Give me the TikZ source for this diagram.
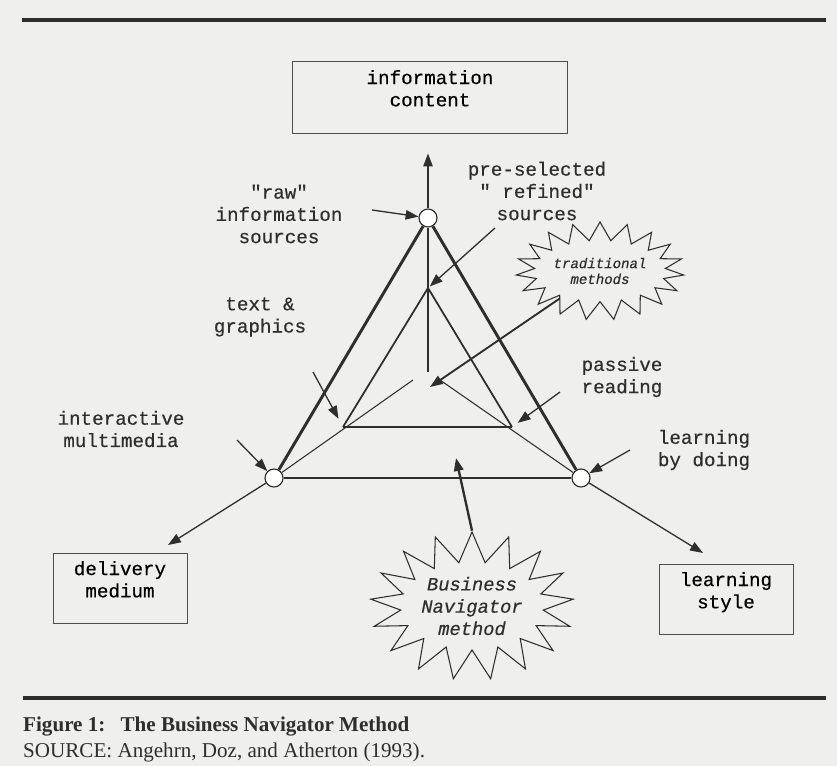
\documentclass[tikz,border=0pt]{standalone}
\usepackage{fontspec}
\setmainfont{Liberation Serif}
\setmonofont{Liberation Mono}[FakeBold=0.4]
\usepackage{tikz}
\usetikzlibrary{positioning,arrows.meta,shapes.symbols}
\definecolor{ink}{HTML}{2E2E2E}
\definecolor{papel}{HTML}{EFEFEE}
\newcommand{\bajo}{\rule[-15pt]{0pt}{15pt}}
\tikzset{
  caja/.style={draw=ink!85,line width=0.8pt,align=center,inner sep=4pt},
  texto/.style={align=center,text=ink,inner sep=0pt},
  nudo/.style={circle,draw=ink,line width=1pt,fill=white,minimum size=0.54cm,inner sep=0pt},
  flecha/.style={-{Triangle[length=11pt,width=8pt]},line width=1.1pt,color=ink},
  grueso/.style={line width=2.5pt,color=ink},
  medio/.style={line width=1.5pt,color=ink},
  fino/.style={line width=0.9pt,color=ink},
  estrella/.style={starburst,random starburst=0,draw=ink,line width=0.9pt,align=center,inner sep=0pt,
    text=ink,font=\ttfamily\itshape\fontsize{16}{19}\selectfont},
  regla/.style={line width=2.6pt,color=ink},
  pie/.style={font=\rmfamily\fontsize{18}{20}\selectfont,inner sep=0pt,text=ink},
}

\begin{document}
\begin{tikzpicture}[x=0.03cm,y=-0.03cm,font=\ttfamily\fontsize{16.4}{19}\selectfont]
  \fill[papel] (0,0) rectangle (837,766);
  \useasboundingbox (0,0) rectangle (837,766);
  \draw[regla] (22,20) -- (826,20);
  \draw[regla] (23,698) -- (826,698);
  % boxes
  \node[caja,minimum width=8.25cm,minimum height=2.16cm] (info) at (430,97) {information\\content\bajo};
  \node[caja,minimum width=4.02cm,minimum height=2.1cm] (dm) at (120,588) {delivery\\medium\bajo};
  \node[caja,minimum width=4.02cm,minimum height=2.1cm] (ls) at (726,599) {learning\\style\bajo};
  % corners of the triangles
  \node[nudo] (arriba) at (428,218) {};
  \node[nudo] (izq) at (274,478) {};
  \node[nudo] (der) at (581,478) {};
  \coordinate (iarriba) at (428,288);
  \coordinate (iizq) at (343,427);
  \coordinate (ider) at (512,427);
  \coordinate (centro) at (428,372);
  \coordinate (ejeizq) at (413,380);
  \coordinate (ejeder) at (440,380);
  \coordinate (centropunta) at (430,387);
  \coordinate (dmpunta) at (168,545);
  \coordinate (lspunta) at (703,553);
  \coordinate (bnmpunta) at (456,458);
  % outer and inner triangle
  \draw[grueso] (arriba) -- (izq);
  \draw[grueso] (arriba) -- (der);
  \draw[grueso] (izq) -- (der);
  \draw[medio] (iizq) -- (iarriba) -- (ider);
  \draw[grueso] (iizq) -- (ider);
  % axes
  \draw[fino] (centro) -- (arriba);
  \draw[fino] (ejeizq) -- (izq);
  \draw[fino] (ejeder) -- (der);
  \draw[flecha,shorten >=0.6cm] (arriba) -- (arriba |- info.south);
  \draw[flecha] (izq) -- (dmpunta);
  \draw[flecha] (der) -- (lspunta);
  % labels
  \node[texto] (raw) at (279,214) {"raw"\\information\\sources};
  \node[texto] (refined) at (537,191) {pre-selected\\" refined"\\sources};
  \node[texto] (textgraf) at (260,317) {text \&\\graphics};
  \node[texto] (passive) at (622,377) {passive\\reading};
  \node[texto] (interact) at (121,429) {interactive\\multimedia};
  \node[texto] (doing) at (704,450) {learning\\by doing};
  \coordinate (rawcola) at (372,210);
  \coordinate (refcola) at (495,228);
  \coordinate (tgcola) at (313,372);
  \coordinate (pascola) at (560,392);
  \coordinate (intcola) at (237,440);
  \coordinate (doicola) at (630,450);
  \draw[flecha] (rawcola) -- (arriba);
  \draw[flecha,shorten >=2pt] (refcola) -- (iarriba);
  \draw[flecha,shorten >=8pt] (tgcola) -- (iizq);
  \draw[flecha,shorten >=6pt] (pascola) -- (ider);
  \draw[flecha] (intcola) -- (izq);
  \draw[flecha] (doicola) -- (der);
  % methods
  \node[estrella,starburst points=19,minimum width=4.6cm,minimum height=2.94cm,
    starburst point height=0.55cm,font=\ttfamily\itshape\fontsize{12}{13.5}\selectfont] (trad) at (600,271) {traditional\\methods};
  \node[estrella,starburst points=17,minimum width=6cm,minimum height=4.44cm,
    starburst point height=0.9cm] (bnm) at (472,606) {Business\\Navigator\\method};
  \draw[flecha,line width=1.6pt] (trad) -- (centropunta);
  \draw[flecha,line width=2pt] (bnm.north) -- (bnmpunta);
  % caption
  \node[pie,font=\rmfamily\bfseries\fontsize{18}{20}\selectfont,anchor=base west] (fig) at (23,731)
    {Figure 1:\hspace{13pt}The Business Navigator Method};
  \node[pie,below=5.8pt of fig.south west,anchor=north west] (fuente) {SOURCE: Angehrn, Doz, and Atherton (1993).};
\end{tikzpicture}
\end{document}
